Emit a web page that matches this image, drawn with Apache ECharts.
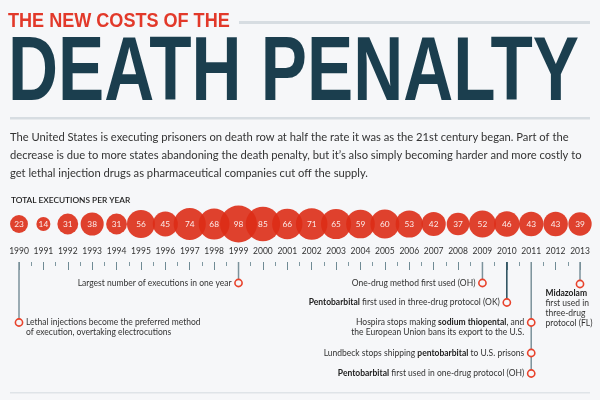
<!DOCTYPE html>
<html><head><meta charset="utf-8">
<script src="https://cdn.jsdelivr.net/npm/echarts@6/dist/echarts.min.js"></script>
<style>html,body{margin:0;padding:0;background:#f6f7f9}#c{width:600px;height:400px}</style>
</head><body><div id="c"></div>
<script>
const years = [1990,1991,1992,1993,1994,1995,1996,1997,1998,1999,2000,2001,2002,2003,2004,2005,2006,2007,2008,2009,2010,2011,2012,2013];
const executions = [23,14,31,38,31,56,45,74,68,98,85,66,71,65,59,60,53,42,37,52,46,43,43,39];
const kicker = 'THE NEW COSTS OF THE';
const headline = 'DEATH PENALTY';
const introLines = [
  'The United States is executing prisoners on death row at half the rate it was as the 21st century began. Part of the',
  'decrease is due to more states abandoning the death penalty, but it\u2019s also simply becoming harder and more costly to',
  'get lethal injection drugs as pharmaceutical companies cut off the supply.'
];
const chartLabel = 'TOTAL EXECUTIONS PER YEAR';
const eventYears = [1990, 1999, 2009, 2010, 2011, 2011, 2011, 2013];
const eventTexts = [
  'Lethal injections become the preferred method\nof execution, overtaking electrocutions',
  'Largest number of executions in one year',
  'One-drug method first used (OH)',
  '{b|Pentobarbital} first used in three-drug protocol (OK)',
  'Hospira stops making {b|sodium thiopental}, and\nthe European Union bans its export to the U.S.',
  'Lundbeck stops shipping {b|pentobarbital} to U.S. prisons',
  '{b|Pentobarbital} first used in one-drug protocol (OH)',
  '{b|Midazolam}\nfirst used in\nthree-drug\nprotocol (FL)'
];
// layout only: label placement and depth (px below the tick axis)
const eventSide = ['right','left','left','left','left','left','left','below'];
const eventDepth = [60.5, 21, 21, 40.5, 60.5, 91, 111.5, 22];

const BG = '#f6f7f9';
const FONT = 'Lato';
const chart = echarts.init(document.getElementById('c'), null, {renderer:'canvas'});

// vertical lines: one per event year, to the deepest marker
const lineYears = [];
const lineDepth = [];
eventYears.forEach((y, i) => {
  const k = lineYears.indexOf(y);
  if (k < 0) { lineYears.push(y); lineDepth.push(eventDepth[i]); }
  else lineDepth[k] = Math.max(lineDepth[k], eventDepth[i]);
});

const graphic = [
  {type:'text', x:8, y:21.5, scaleX:0.86, style:{text:kicker, font:'bold 21px "Liberation Sans"', fill:'#e2392a', verticalAlign:'middle'}},
  {type:'rect', shape:{x:239, y:21, width:351, height:3}, style:{fill:'#d7dde2'}},
  {type:'text', x:8, y:75, scaleX:0.77, style:{text:headline, font:'bold 90px "Liberation Sans"', fill:'#1b3e4e', verticalAlign:'middle'}},
  {type:'rect', shape:{x:10, y:117, width:580, height:2.5}, style:{fill:'#d7dde2'}},
  {type:'rect', shape:{x:10, y:392, width:580, height:1.5}, style:{fill:'#dfe4e8'}},
  {type:'text', x:11, y:200, style:{text:chartLabel, font:'600 8.3px "' + FONT + '"', fill:'#222', verticalAlign:'middle'}}
];
introLines.forEach((t, i) => {
  graphic.push({type:'text', x:10, y:137 + i*18, style:{text:t, font:'11.2px "' + FONT + '"', fill:'#333', verticalAlign:'middle'}});
});

const option = {
  backgroundColor: BG,
  animation: false,
  graphic: graphic,
  grid: [
    {left:19, right:20, top:204, height:40},
    {left:19, right:20, top:250, height:12},
    {left:19, right:20, top:262, height:138}
  ],
  xAxis: [
    {gridIndex:0, type:'value', min:1990, max:2013, interval:1, axisLine:{show:false}, axisTick:{show:false}, splitLine:{show:false},
     axisLabel:{margin:3, fontSize:8.5, fontFamily:FONT, color:'#333', formatter: v => String(v)}},
    {gridIndex:1, type:'value', min:1990, max:2013, interval:1, axisLine:{show:false}, splitLine:{show:false}, axisLabel:{show:false},
     axisTick:{show:true, length:8, lineStyle:{color:'#6f8a94', width:1}},
     minorTick:{show:true, splitNumber:2, length:4, lineStyle:{color:'#7f98a1', width:1}}},
    {gridIndex:2, type:'value', min:1990, max:2013, show:false}
  ],
  yAxis: [
    {gridIndex:0, type:'value', min:-1, max:1, show:false},
    {gridIndex:1, type:'value', min:0, max:1, show:false},
    {gridIndex:2, type:'value', min:0, max:138, inverse:true, show:false}
  ],
  series: [
    {
      type:'scatter', xAxisIndex:0, yAxisIndex:0,
      data: years.map((y, i) => [y, 0, executions[i]]),
      symbolSize: d => 3.74 * Math.sqrt(d[2]),
      itemStyle:{color:'#dd2c16', opacity:0.9},
      label:{show:true, position:'inside', formatter: p => p.value[2], color:'#fff', fontSize:8.3, fontFamily:FONT},
      emphasis:{disabled:true}, z:3
    },
    {
      type:'custom', xAxisIndex:2, yAxisIndex:2, z:2,
      data: lineYears.map((y, i) => [y, lineDepth[i]]),
      renderItem: (params, api) => {
        const a = api.coord([api.value(0), 0]);
        const b = api.coord([api.value(0), api.value(1)]);
        const dark = api.value(0) === 2010;
        return {type:'line', shape:{x1:a[0], y1:a[1], x2:b[0], y2:b[1]},
          style:{stroke: dark ? '#244a59' : '#7b929b', lineWidth:1.5}};
      }
    },
    {
      type:'custom', xAxisIndex:2, yAxisIndex:2, z:4,
      data: eventYears.map((y, i) => [y, eventDepth[i]]),
      renderItem: (params, api) => {
        const i = params.dataIndex;
        const p = api.coord([api.value(0), api.value(1)]);
        const side = eventSide[i];
        const lh = 10;
        let tx, ty, align;
        if (side === 'right') { tx = p[0] + 7; ty = p[1] - lh/2; align = 'left'; }
        else if (side === 'left') { tx = p[0] - 7; ty = p[1] - lh/2; align = 'right'; }
        else { tx = p[0] - 34.5; ty = p[1] + 4.3; align = 'left'; }
        return {type:'group', children:[
          {type:'circle', shape:{cx:p[0], cy:p[1], r:3.6}, style:{fill:BG, stroke:'#e8432c', lineWidth:1.6}},
          {type:'text', x:tx, y:ty, style:{text:eventTexts[i], align:align, verticalAlign:'top',
            fontSize:8.5, fontFamily:FONT, fill:'#333', lineHeight:lh,
            rich:{b:{fontWeight:'bold', fontSize:8.5, fontFamily:FONT, fill:'#222', lineHeight:lh}}}}
        ]};
      }
    }
  ]
};
chart.setOption(option);
</script></body></html>
